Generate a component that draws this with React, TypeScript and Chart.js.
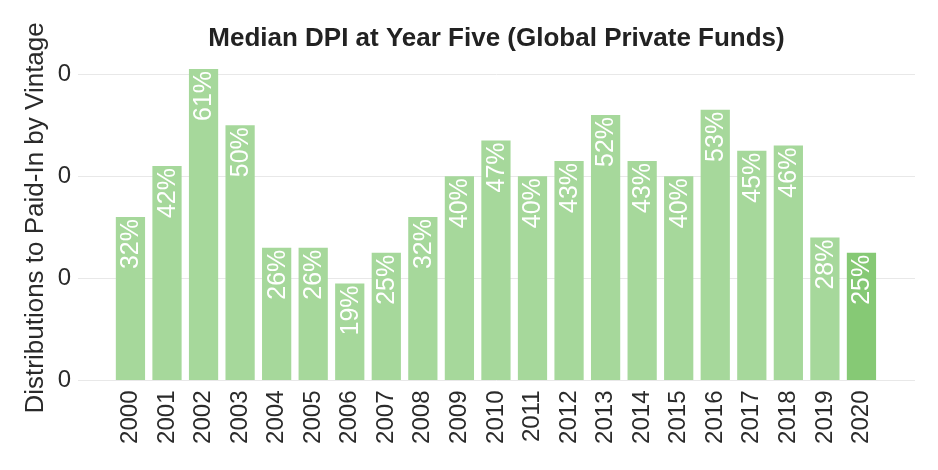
import { useEffect, useRef } from "react";
import { Chart, registerables } from "chart.js";

Chart.register(...registerables);

const vintages = [
  2000, 2001, 2002, 2003, 2004, 2005, 2006, 2007, 2008, 2009, 2010,
  2011, 2012, 2013, 2014, 2015, 2016, 2017, 2018, 2019, 2020,
];
const medianDpi = [
  0.32, 0.42, 0.61, 0.5, 0.26, 0.26, 0.19, 0.25, 0.32, 0.4, 0.47,
  0.4, 0.43, 0.52, 0.43, 0.4, 0.53, 0.45, 0.46, 0.28, 0.25,
];
const yTicks = [0, 0.2, 0.4, 0.6];
const highlightVintage = 2020;

const FONT = "'Liberation Sans', Arial, Helvetica, sans-serif";
const LIGHT_GREEN = "#a6d89b";
const DARK_GREEN = "#86c975";

const barLabels = {
  id: "barLabels",
  afterDatasetsDraw(chart: Chart) {
    const ctx = chart.ctx;
    const meta = chart.getDatasetMeta(0);
    ctx.save();
    ctx.font = `25px ${FONT}`;
    ctx.fillStyle = "#ffffff";
    ctx.textAlign = "right";
    ctx.textBaseline = "middle";
    meta.data.forEach((bar: any, i: number) => {
      const text = Math.round(medianDpi[i] * 100) + "%";
      ctx.save();
      ctx.translate(bar.x + 1, bar.y + 2);
      ctx.rotate(-Math.PI / 2);
      ctx.fillText(text, 0, 0);
      ctx.restore();
    });
    ctx.restore();
  },
};

export default function App() {
  const canvasRef = useRef<HTMLCanvasElement | null>(null);
  const chartRef = useRef<Chart | null>(null);

  useEffect(() => {
    if (!canvasRef.current) return;
    if (chartRef.current) chartRef.current.destroy();

    chartRef.current = new Chart(canvasRef.current, {
      type: "bar",
      data: {
        datasets: [
          {
            data: vintages.map((v, i) => ({ x: v, y: medianDpi[i] })),
            backgroundColor: vintages.map((v) =>
              v === highlightVintage ? DARK_GREEN : LIGHT_GREEN
            ),
            borderWidth: 0,
            barPercentage: 0.8,
            categoryPercentage: 1,
          },
        ],
      },
      plugins: [barLabels],
      options: {
        animation: false,
        responsive: false,
        maintainAspectRatio: false,
        layout: { padding: { left: 0, right: 23, top: 0, bottom: 0 } },
        plugins: {
          legend: { display: false },
          tooltip: { enabled: false },
          title: {
            display: true,
            text: "Median DPI at Year Five (Global Private Funds)",
            fullSize: false,
            color: "#222222",
            font: { family: FONT, size: 26, weight: "bold" },
            padding: { top: 23, bottom: 1 },
          },
        },
        scales: {
          x: {
            type: "linear",
            offset: false,
            min: 1998.565,
            max: 2021.465,
            grid: { display: false, drawTicks: false },
            border: { display: false },
            afterFit(scale: any) {
              scale.height = 89.5;
            },
            afterBuildTicks(scale: any) {
              scale.ticks = vintages.map((v) => ({ value: v }));
            },
            ticks: {
              autoSkip: false,
              minRotation: 90,
              maxRotation: 90,
              padding: 10,
              color: "#2a2a2a",
              font: { family: FONT, size: 24 },
              callback: (v: any) => String(Math.round(Number(v))),
            },
          },
          y: {
            min: 0,
            max: 0.637,
            grid: { color: "#e8e8e8", lineWidth: 1, drawTicks: false },
            border: { display: false },
            afterFit(scale: any) {
              scale.width = 78;
            },
            afterBuildTicks(scale: any) {
              scale.ticks = yTicks.map((v) => ({ value: v }));
            },
            ticks: {
              padding: 7,
              color: "#2a2a2a",
              font: { family: FONT, size: 24 },
              callback: (v: any) => String(Math.floor(Number(v))),
            },
            title: {
              display: true,
              text: "Distributions to Paid-In by Vintage",
              color: "#2a2a2a",
              font: { family: FONT, size: 26 },
              padding: { top: 20, bottom: 0 },
            },
          },
        },
      },
    });

    return () => {
      if (chartRef.current) {
        chartRef.current.destroy();
        chartRef.current = null;
      }
    };
  }, []);

  return (
    <div
      style={{
        position: "absolute",
        left: 0,
        top: 0,
        width: 938,
        height: 470,
        background: "#ffffff",
      }}
    >
      <canvas ref={canvasRef} width={938} height={470} />
    </div>
  );
}
